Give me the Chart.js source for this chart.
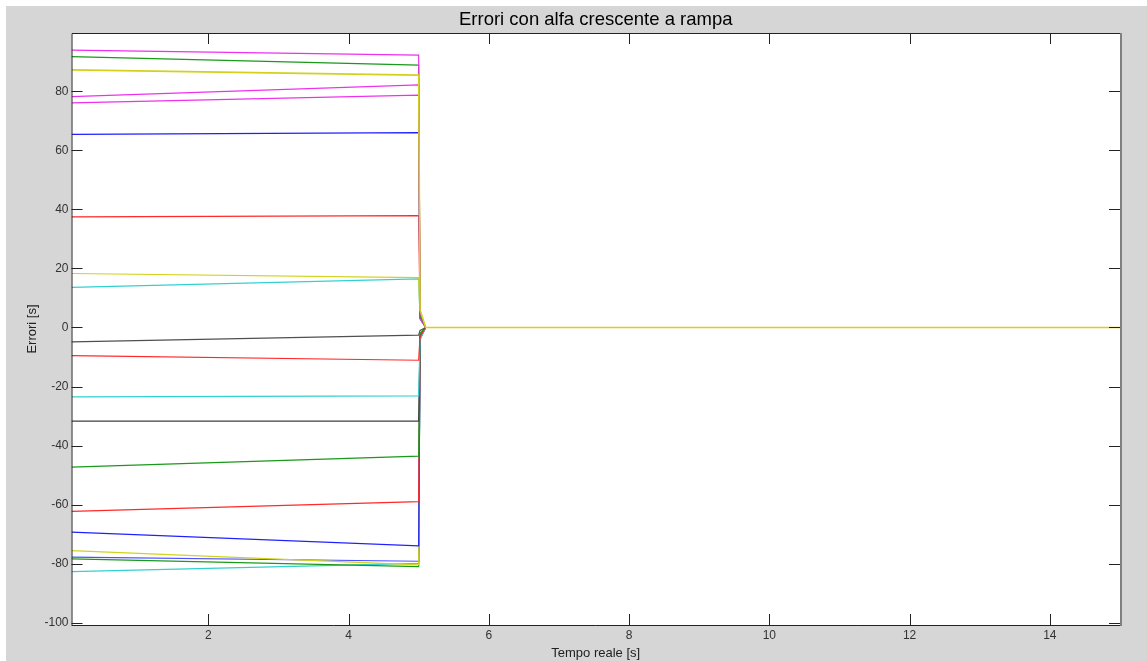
<!DOCTYPE html>
<html>
<head>
<meta charset="utf-8">
<script src="https://cdn.jsdelivr.net/npm/chart.js@4/dist/chart.umd.min.js"></script>
<style>
  html, body { margin: 0; padding: 0; background: #fff; }
  #wrap { width: 1147px; height: 661px; position: relative; }
</style>
</head>
<body>
<div id="wrap"><canvas id="myChart"></canvas></div>
<script>
// time instants: start, ramp end (switch), just after switch, settled, end
const timePoints = [0.05, 5.0, 5.02, 5.1, 15];

// error value of each series at start and at the switch instant
const startVals  = [94.0, 91.8, 87.3, 78.2, 76.1, 65.4, 37.5, 18.3, 13.6, -4.9,
                    -9.5, -23.5, -31.7, -47.3, -62.3, -69.3, -75.6, -77.8, -78.4, -82.7];
const switchVals = [92.3, 88.9, 85.5, 82.2, 78.7, 66.0, 37.9, 16.9, 16.5, -2.6,
                    -11.1, -23.2, -31.7, -43.6, -59.0, -74.0, -80.4, -79.2, -81.0, -79.9];
const residualVals = [5, 4, 6, 4, 3, 3, 4, 3, 3, -1,
                      -3, -4, -3, -2, -4, -3, -2, -3, -2, -4];

const xTicks = [2, 4, 6, 8, 10, 12, 14];
const yTicks = [-100, -80, -60, -40, -20, 0, 20, 40, 60, 80];

const titleText = 'Errori con alfa crescente a rampa';

const seriesColors = ['#ee30ee', '#1a9a1a', '#d2d21e', '#ee30ee', '#ee30ee', '#2020ff', '#ff2a2a',
                      '#d2d21e', '#33d0d0', '#505050', '#ff2a2a', '#33d0d0', '#404040', '#1a9a1a',
                      '#ff2a2a', '#2020ff', '#d2d21e', '#5050ff', '#1a9a1a', '#33d0d0'];

const datasets = startVals.map((v, i) => ({
  data: [v, switchVals[i], residualVals[i], 0, 0].map((y, k) => ({ x: timePoints[k], y: y })),
  borderColor: seriesColors[i],
  borderWidth: i === 2 ? 1.6 : 1.2,
  pointRadius: 0,
  tension: 0,
  order: i === 2 ? -1 : 0
}));

const matlabFrame = {
  id: 'matlabFrame',
  beforeDraw(chart) {
    const { ctx, width, height, chartArea: a } = chart;
    ctx.save();
    ctx.fillStyle = '#ffffff';
    ctx.fillRect(0, 0, width, height);
    ctx.fillStyle = '#d6d6d6';
    ctx.fillRect(6, 6, width - 6, height - 6);
    ctx.fillStyle = '#ffffff';
    ctx.fillRect(a.left, a.top, a.right - a.left, a.bottom - a.top);
    ctx.restore();
  },
  afterDraw(chart) {
    const { ctx, chartArea: a } = chart;
    const xs = chart.scales.x, ys = chart.scales.y;
    const len = 11;
    ctx.save();
    // title, centred over the axes box
    ctx.fillStyle = '#000';
    ctx.font = '18.5px "Liberation Sans", Arial, sans-serif';
    ctx.textAlign = 'center';
    ctx.textBaseline = 'alphabetic';
    ctx.fillText(titleText, (a.left + a.right) / 2, 25);
    // inward ticks on all four sides
    ctx.strokeStyle = '#222';
    ctx.lineWidth = 1;
    ctx.beginPath();
    xTicks.forEach(t => {
      const px = Math.round(xs.getPixelForValue(t)) + 0.5;
      ctx.moveTo(px, a.bottom); ctx.lineTo(px, a.bottom - len);
      ctx.moveTo(px, a.top); ctx.lineTo(px, a.top + len);
    });
    yTicks.forEach(t => {
      const py = Math.round(ys.getPixelForValue(t)) + 0.5;
      ctx.moveTo(a.left, py); ctx.lineTo(a.left + len, py);
      ctx.moveTo(a.right, py); ctx.lineTo(a.right - len, py);
    });
    ctx.stroke();
    ctx.beginPath();
    ctx.moveTo(a.left + 0.5, a.bottom); ctx.lineTo(a.left + 0.5, a.top + 0.5);
    ctx.lineTo(a.right, a.top + 0.5);
    ctx.moveTo(a.left, a.bottom + 0.5); ctx.lineTo(a.right, a.bottom + 0.5);
    ctx.stroke();
    ctx.strokeStyle = '#808080';
    ctx.lineWidth = 2;
    ctx.beginPath();
    ctx.moveTo(a.right + 1, a.top); ctx.lineTo(a.right + 1, a.bottom + 1);
    ctx.stroke();
    ctx.restore();
  }
};

const tickFont = { family: '"Liberation Sans", Arial, sans-serif', size: 12 };
const axisFont = { family: '"Liberation Sans", Arial, sans-serif', size: 13 };

const ctx = document.getElementById('myChart').getContext('2d');
const chart = new Chart(ctx, {
  type: 'line',
  data: { datasets: datasets },
  plugins: [matlabFrame],
  options: {
    responsive: true,
    maintainAspectRatio: false,
    animation: false,
    layout: { padding: { left: 0, right: 27, top: 33, bottom: 0 } },
    plugins: {
      legend: { display: false },
      tooltip: { enabled: false },
      title: { display: false }
    },
    scales: {
      x: {
        type: 'linear',
        min: 0.05,
        max: 15,
        afterBuildTicks: s => { s.ticks = xTicks.map(v => ({ value: v })); },
        afterFit: s => { s.height = 36; },
        grid: { display: false, drawTicks: false },
        border: { display: false },
        ticks: { color: '#333', font: tickFont, padding: 3, maxRotation: 0 },
        title: { display: true, text: 'Tempo reale [s]', color: '#222', font: axisFont, padding: { top: 0, bottom: 0 } }
      },
      y: {
        min: -100.8,
        max: 99.78,
        afterBuildTicks: s => { s.ticks = yTicks.map(v => ({ value: v })); },
        afterFit: s => { s.width = 71.5; },
        grid: { display: false, drawTicks: false },
        border: { display: false },
        ticks: { color: '#333', font: tickFont, padding: 3 },
        title: { display: true, text: 'Errori [s]', color: '#222', font: axisFont, padding: { top: 24.7, bottom: 0 } }
      }
    }
  }
});
</script>
</body>
</html>
